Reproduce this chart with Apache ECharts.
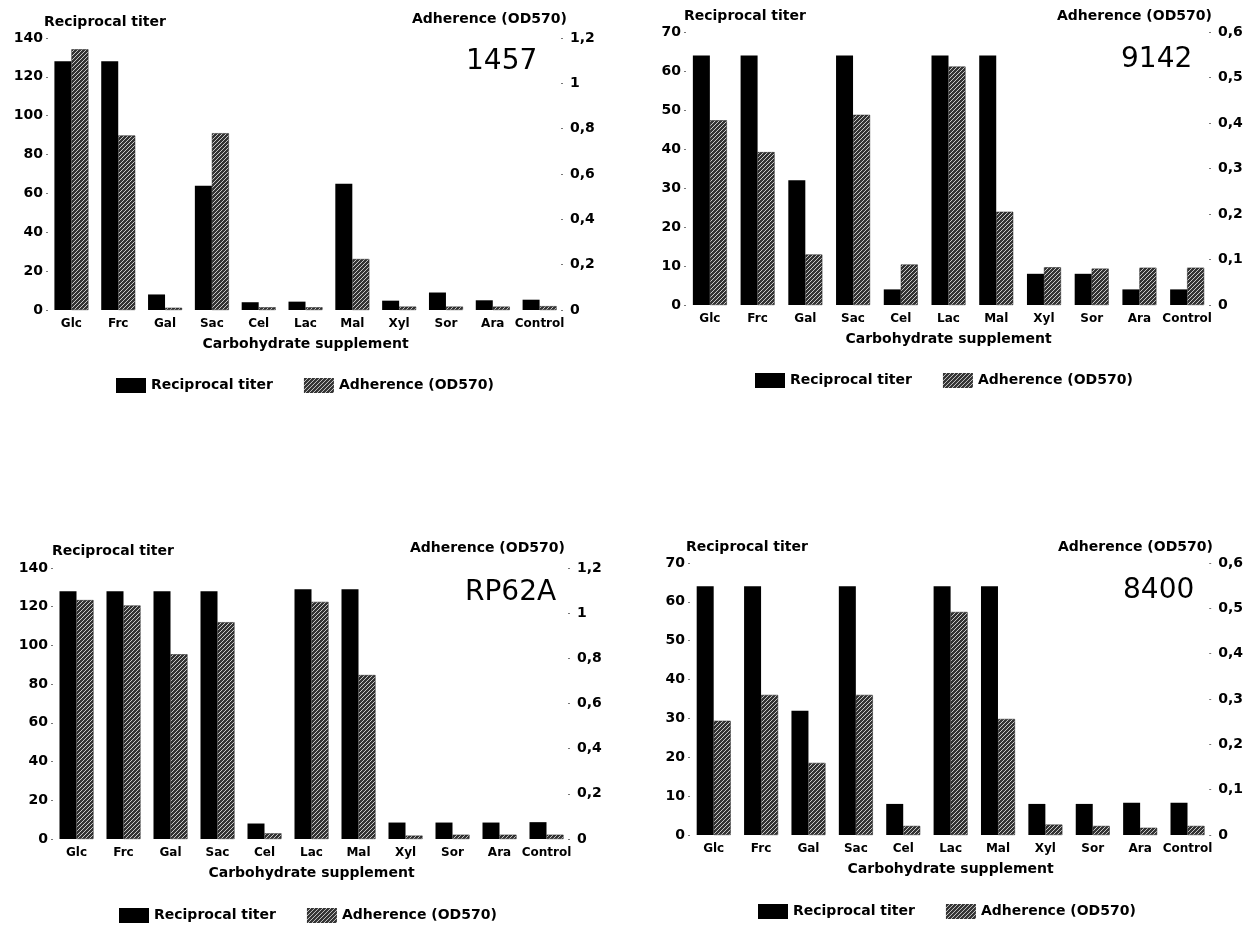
<!DOCTYPE html>
<html>
<head>
<meta charset="utf-8">
<script src="https://cdn.jsdelivr.net/npm/echarts@6/dist/echarts.min.js"></script>
<style>
html,body{margin:0;padding:0;background:#fff;}
#chart{width:1246px;height:925px;}
</style>
</head>
<body>
<div id="chart"></div>
<script>
// ---- data ----
const categories = ['Glc','Frc','Gal','Sac','Cel','Lac','Mal','Xyl','Sor','Ara','Control'];
const strains = ['1457','9142','RP62A','8400'];

const titer1457 = [128, 128, 8, 64, 4, 4.3, 65, 4.8, 9, 5, 5.3];
const adh1457   = [1.15, 0.77, 0.01, 0.78, 0.012, 0.012, 0.225, 0.015, 0.015, 0.015, 0.017];

const titer9142 = [64, 64, 32, 64, 4, 64, 64, 8, 8, 4, 4];
const adh9142   = [0.406, 0.336, 0.111, 0.418, 0.089, 0.524, 0.205, 0.083, 0.080, 0.082, 0.082];

const titerRP62A = [128, 128, 128, 128, 8, 129, 129, 8.5, 8.5, 8.5, 8.7];
const adhRP62A   = [1.058, 1.034, 0.818, 0.96, 0.025, 1.05, 0.726, 0.015, 0.019, 0.019, 0.019];

const titer8400 = [64, 64, 32, 64, 8, 64, 64, 8, 8, 8.3, 8.3];
const adh8400   = [0.252, 0.309, 0.159, 0.309, 0.02, 0.492, 0.256, 0.023, 0.02, 0.016, 0.02];

const titerTicks = [{max:140, interval:20}, {max:70, interval:10}, {max:140, interval:20}, {max:70, interval:10}];
const adhTicks   = [{max:1.2, interval:0.2}, {max:0.6, interval:0.1}, {max:1.2, interval:0.2}, {max:0.6, interval:0.1}];

const nameTiter = 'Reciprocal titer';
const nameAdh = 'Adherence (OD570)';
const nameX = 'Carbohydrate supplement';

// ---- layout ----
const layout = [
  {grid:{left:48, top:38, width:515, height:272}, legend:{left:116, top:378},
   tTitle:{left:44, top:15}, aTitle:{left:412, top:12}, sTitle:{left:466, top:48}},
  {grid:{left:686, top:32, width:525, height:273}, legend:{left:755, top:373},
   tTitle:{left:684, top:9}, aTitle:{left:1057, top:9}, sTitle:{left:1121, top:46}},
  {grid:{left:53, top:568, width:517, height:271}, legend:{left:119, top:908},
   tTitle:{left:52, top:544}, aTitle:{left:410, top:541}, sTitle:{left:465, top:579}},
  {grid:{left:690, top:563, width:524, height:272}, legend:{left:758, top:904},
   tTitle:{left:686, top:540}, aTitle:{left:1058, top:540}, sTitle:{left:1123, top:577}}
];

const titers = [titer1457, titer9142, titerRP62A, titer8400];
const adhs = [adh1457, adh9142, adhRP62A, adh8400];

function makeHatch(){
  const c = document.createElement('canvas');
  c.width = 4; c.height = 4;
  const g = c.getContext('2d');
  g.fillStyle = '#333333'; g.fillRect(0,0,4,4);
  g.fillStyle = '#c8c8c8';
  for (let i=0;i<4;i++) g.fillRect(i,3-i,1,1);
  return c;
}
const hatch = {image: makeHatch(), repeat: 'repeat'};

const FONT = 'DejaVu Sans';
const fmtComma = v => String(+(+v).toFixed(2)).replace('.', ',');

const option = {
  animation:false,
  backgroundColor:'#fff',
  textStyle:{fontFamily:FONT, color:'#000'},
  title:[], grid:[], xAxis:[], yAxis:[], series:[], legend:[]
};

for (let i=0;i<4;i++){
  const L = layout[i];
  option.grid.push(Object.assign({containLabel:false}, L.grid));
  option.xAxis.push({
    type:'category', gridIndex:i, data:categories,
    axisLine:{show:false}, axisTick:{show:false},
    axisLabel:{interval:0, margin:8, fontFamily:FONT, fontWeight:'bold', fontSize:12, color:'#000'},
    name:nameX, nameLocation:'middle', nameGap:27,
    nameTextStyle:{fontFamily:FONT, fontWeight:'bold', fontSize:14, color:'#000'}
  });
  option.yAxis.push({
    type:'value', gridIndex:i, min:0, max:titerTicks[i].max, interval:titerTicks[i].interval,
    splitLine:{show:false}, axisLine:{show:false},
    axisTick:{show:true, length:2, lineStyle:{color:'#777'}},
    axisLabel:{margin:5, fontFamily:FONT, fontWeight:'bold', fontSize:14, color:'#000'}
  });
  option.yAxis.push({
    type:'value', gridIndex:i, position:'right', min:0, max:adhTicks[i].max, interval:adhTicks[i].interval,
    splitLine:{show:false}, axisLine:{show:false},
    axisTick:{show:true, length:2, inside:true, lineStyle:{color:'#777'}},
    axisLabel:{margin:7, formatter:fmtComma, fontFamily:FONT, fontWeight:'bold', fontSize:14, color:'#000'}
  });
  option.series.push({
    type:'bar', name:nameTiter, xAxisIndex:i, yAxisIndex:2*i, data:titers[i],
    barWidth:17, barGap:'0%', itemStyle:{color:'#000'}
  });
  option.series.push({
    type:'bar', name:nameAdh, xAxisIndex:i, yAxisIndex:2*i+1, data:adhs[i],
    barWidth:17, barGap:'0%', itemStyle:{color:hatch, borderColor:'#222', borderWidth:0.5}
  });
  option.legend.push({
    left:L.legend.left, top:L.legend.top, padding:0, itemGap:31, itemWidth:30, itemHeight:15,
    selectedMode:false, icon:'rect', data:[nameTiter, nameAdh],
    itemStyle:{borderWidth:0},
    textStyle:{fontFamily:FONT, fontWeight:'bold', fontSize:14, color:'#000'}
  });
  const tstyle = {fontFamily:FONT, fontWeight:'bold', fontSize:14, color:'#000'};
  option.title.push({text:nameTiter, left:L.tTitle.left, top:L.tTitle.top, padding:0, textStyle:tstyle});
  option.title.push({text:nameAdh, left:L.aTitle.left, top:L.aTitle.top, padding:0, textStyle:tstyle});
  option.title.push({text:strains[i], left:L.sTitle.left, top:L.sTitle.top, padding:0,
    textStyle:{fontFamily:FONT, fontWeight:'normal', fontSize:28, color:'#000'}});
}

const chart = echarts.init(document.getElementById('chart'), null, {renderer:'canvas'});
chart.setOption(option);
</script>
</body>
</html>
